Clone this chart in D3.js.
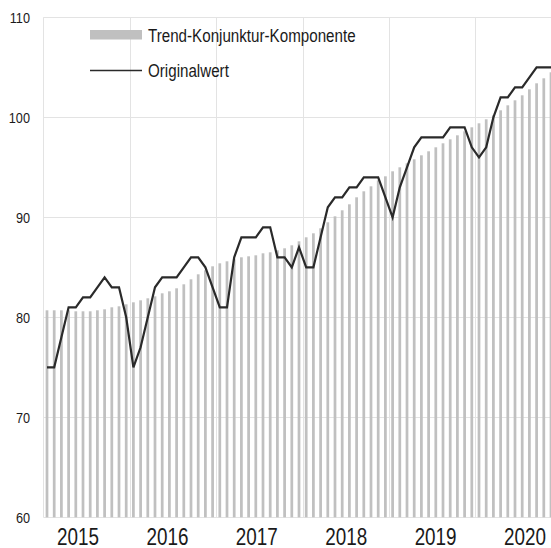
<!DOCTYPE html>
<html lang="de">
<head>
<meta charset="utf-8">
<title>Trend-Konjunktur-Komponente</title>
<script src="https://d3js.org/d3.v7.min.js"></script>
<style>
  body { margin: 0; background: #fff; }
  svg text { font-family: "Liberation Sans", Arial, sans-serif; fill: #1a1a1a; }
</style>
</head>
<body>
<script>
// Monatswerte Jan 2015 - Nov 2020
var years = [2015, 2016, 2017, 2018, 2019, 2020];
var yTicks = [60, 70, 80, 90, 100, 110];

var trend = [
  80.7, 80.7, 80.7, 80.7, 80.6, 80.6, 80.6, 80.7, 80.8, 81.0, 81.1, 81.3,
  81.5, 81.7, 81.9, 82.1, 82.4, 82.6, 82.9, 83.3, 83.8, 84.3, 84.7, 85.1,
  85.4, 85.6, 85.8, 86.0, 86.1, 86.2, 86.4, 86.5, 86.7, 86.9, 87.2, 87.6,
  88.0, 88.4, 88.9, 89.5, 90.1, 90.7, 91.3, 92.0, 92.6, 93.1, 93.7, 94.1,
  94.6, 95.0, 95.4, 95.8, 96.2, 96.6, 97.0, 97.4, 97.8, 98.2, 98.6, 99.0,
  99.4, 99.8, 100.2, 100.7, 101.2, 101.7, 102.2, 102.8, 103.4, 103.9, 104.5
];
var original = [
  75, 75, 78, 81, 81, 82, 82, 83, 84, 83, 83, 80,
  75, 77, 80, 83, 84, 84, 84, 85, 86, 86, 85, 83,
  81, 81, 86, 88, 88, 88, 89, 89, 86, 86, 85, 87,
  85, 85, 88, 91, 92, 92, 93, 93, 94, 94, 94, 92,
  90, 93, 95, 97, 98, 98, 98, 98, 99, 99, 99, 97,
  96, 97, 100, 102, 102, 103, 103, 104, 105, 105, 105
];

var W = 551, H = 548;
var narrow = 0.82; // schmale Schrift nachbilden (Arial Narrow)
var svg = d3.select("body").append("svg")
  .attr("width", W).attr("height", H);

// 72 Monatsplaetze (Dez 2020 faellt aus dem Bild)
var months = d3.range(years.length * 12);
var x = d3.scaleBand().domain(months).range([43.4, 43.4 + 72 * 7.2]).paddingInner(0.62).paddingOuter(0.31);
var y = d3.scaleLinear().domain([60, 110]).range([517.3, 17.3]);
var xYear = d3.scaleLinear().domain([years[0], years[years.length - 1]]).range([78, 525]);

function placeText(sel, fx, fy) {
  sel.attr("transform", (d, i) => "translate(" + fx(d, i) + "," + fy(d, i) + ") scale(" + narrow + ",1)");
}

var plot = svg.append("g");

// gitter
plot.selectAll("line.h").data(yTicks).enter().append("line")
  .attr("x1", 43.4).attr("x2", W)
  .attr("y1", d => Math.round(y(d)) + 0.5).attr("y2", d => Math.round(y(d)) + 0.5)
  .attr("stroke", "#e3e3e3").attr("stroke-width", 1);

plot.selectAll("line.v").data(years).enter().append("line")
  .attr("x1", (d, i) => Math.round(x.range()[0] + i * 12 * x.step()) + 0.5)
  .attr("x2", (d, i) => Math.round(x.range()[0] + i * 12 * x.step()) + 0.5)
  .attr("y1", y(110)).attr("y2", y(60))
  .attr("stroke", "#e3e3e3").attr("stroke-width", 1);

// balken
plot.selectAll("rect.bar").data(trend).enter().append("rect")
  .attr("x", (d, i) => x(i))
  .attr("width", x.bandwidth())
  .attr("y", d => y(d))
  .attr("height", d => y(60) - y(d))
  .attr("fill", "#c0c0c0");

// linie
var line = d3.line()
  .x((d, i) => x(i) + x.bandwidth() / 2)
  .y(d => y(d));
plot.append("path").datum(original)
  .attr("d", line)
  .attr("fill", "none")
  .attr("stroke", "#2a2a2a")
  .attr("stroke-width", 2.2)
  .attr("stroke-linejoin", "miter");

// achsenbeschriftung
svg.selectAll("text.yl").data(yTicks).enter().append("text")
  .attr("text-anchor", "end")
  .style("font-size", "15.5px")
  .text(d => d)
  .call(placeText, () => 30, d => y(d) + 5.5);

svg.selectAll("text.xl").data(years).enter().append("text")
  .attr("text-anchor", "middle")
  .style("font-size", "23px")
  .text(d => d)
  .call(placeText, d => xYear(d), () => 544.5);

// legende
var leg = svg.append("g");
leg.append("rect").attr("x", 90).attr("y", 30).attr("width", 52).attr("height", 9.5).attr("fill", "#c0c0c0");
leg.append("text").style("font-size", "18.5px").text("Trend-Konjunktur-Komponente")
  .call(placeText, () => 148, () => 41.5);
leg.append("line").attr("x1", 90).attr("x2", 142).attr("y1", 70.5).attr("y2", 70.5)
  .attr("stroke", "#2a2a2a").attr("stroke-width", 1.6);
leg.append("text").style("font-size", "18.5px").text("Originalwert")
  .call(placeText, () => 148, () => 76.5);
</script>
</body>
</html>
